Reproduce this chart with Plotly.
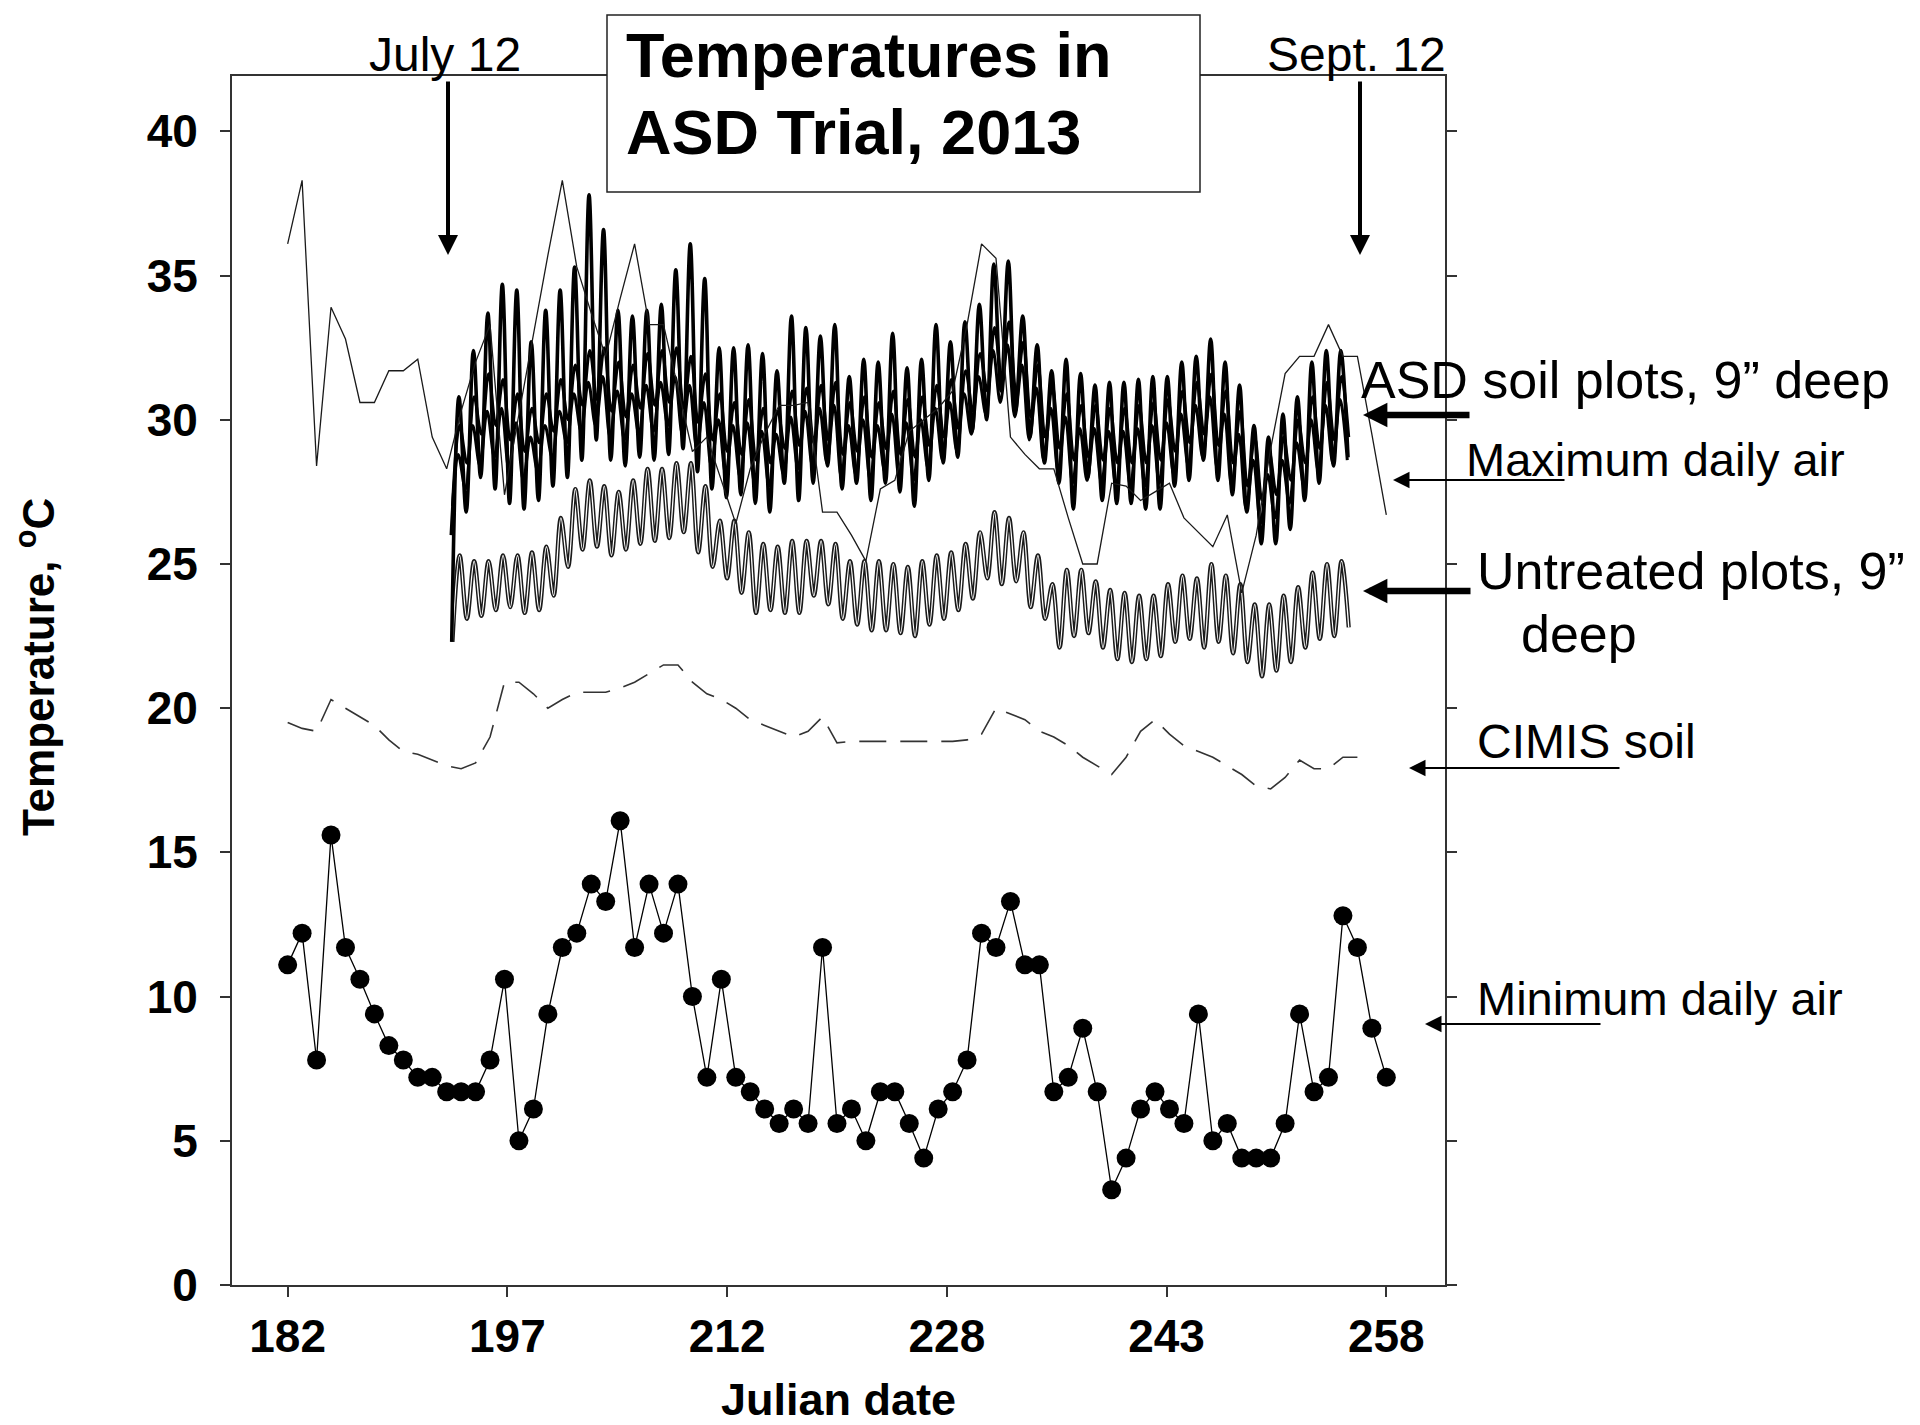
import plotly.graph_objects as go

# ---------------- data ----------------
MIN_DAYS = list(range(182, 259))
MIN_AIR = [11.1, 12.2, 7.8, 15.6, 11.7, 10.6, 9.4, 8.3, 7.8, 7.2,
           7.2, 6.7, 6.7, 6.7, 7.8, 10.6, 5.0, 6.1, 9.4, 11.7,
           12.2, 13.9, 13.3, 16.1, 11.7, 13.9, 12.2, 13.9, 10.0, 7.2,
           10.6, 7.2, 6.7, 6.1, 5.6, 6.1, 5.6, 11.7, 5.6, 6.1,
           5.0, 6.7, 6.7, 5.6, 4.4, 6.1, 6.7, 7.8, 12.2, 11.7,
           13.3, 11.1, 11.1, 6.7, 7.2, 8.9, 6.7, 3.3, 4.4, 6.1,
           6.7, 6.1, 5.6, 9.4, 5.0, 5.6, 4.4, 4.4, 4.4, 5.6,
           9.4, 6.7, 7.2, 12.8, 11.7, 8.9, 7.2]

MAX_DAYS = list(range(182, 259))
MAX_AIR = [36.1, 38.3, 28.4, 33.9, 32.8, 30.6, 30.6, 31.7, 31.7, 32.1,
           29.4, 28.3, 30.3, 32.0, 33.3, 27.4, 30.2, 33.0, 35.7, 38.3,
           35.3, 33.7, 32.2, 34.2, 36.1, 33.3, 33.3, 31.1, 28.9, 29.4,
           27.9, 26.4, 28.3, 29.5, 30.5, 30.5, 30.6, 26.8, 26.8, 26.0,
           25.1, 27.6, 27.9, 29.6, 30.0, 30.4, 31.0, 33.3, 36.1, 35.6,
           29.4, 28.8, 28.3, 28.3, 26.6, 25.0, 25.0, 27.8, 27.7, 27.2,
           27.5, 27.8, 26.6, 26.1, 25.6, 26.7, 24.0, 26.0, 29.0, 31.6,
           32.2, 32.2, 33.3, 32.2, 32.2, 29.5, 26.7]

CIMIS_DAYS = list(range(182, 257))
CIMIS_SOIL = [19.5, 19.3, 19.2, 20.3, 20.0, 19.7, 19.4, 18.9, 18.5, 18.4,
              18.2, 18.0, 17.9, 18.1, 19.0, 20.9, 20.9, 20.5, 20.0, 20.3,
              20.55, 20.55, 20.55, 20.7, 20.9, 21.2, 21.5, 21.5, 20.9, 20.5,
              20.3, 20.0, 19.6, 19.4, 19.2, 19.0, 19.2, 19.7, 18.8, 18.85,
              18.85, 18.85, 18.85, 18.85, 18.85, 18.85, 18.85, 18.9, 19.1, 20.0,
              19.8, 19.6, 19.2, 19.0, 18.7, 18.3, 18.0, 17.7, 18.3, 19.2,
              19.6, 19.1, 18.7, 18.5, 18.3, 18.0, 17.7, 17.3, 17.2, 17.6,
              18.2, 17.9, 17.9, 18.3, 18.3]

# hourly probe records, summarised as the daily low (early) and daily high (evening)
PROBE_DAYS = list(range(193, 256))
ASD_A_LOW = [22.3, 26.8, 28.0, 27.6, 27.1, 26.9, 27.2, 27.7, 28.0, 28.6,
             29.3, 28.6, 28.4, 28.7, 28.6, 28.8, 29.0, 28.2, 27.6, 27.3,
             27.4, 27.1, 26.8, 27.8, 27.2, 27.8, 28.4, 27.6, 27.8, 27.2,
             27.8, 27.5, 27.0, 27.9, 28.5, 28.7, 29.6, 30.0, 31.0, 30.3,
             29.4, 28.5, 27.8, 26.9, 28.0, 27.2, 27.1, 27.1, 26.9, 26.9,
             27.7, 27.9, 28.6, 27.9, 27.4, 26.8, 25.7, 25.7, 26.2, 27.2,
             27.8, 28.4, 28.7]
ASD_A_HIGH = [30.8, 32.4, 33.7, 34.7, 34.5, 32.7, 33.8, 34.5, 35.3, 37.8,
              36.6, 33.8, 33.6, 33.8, 34.0, 35.2, 36.1, 34.9, 32.5, 32.5,
              32.6, 32.3, 31.7, 33.6, 33.2, 32.9, 33.3, 31.5, 32.1, 32.0,
              33.0, 31.8, 32.1, 33.3, 32.7, 33.4, 34.0, 35.4, 35.5, 33.6,
              32.6, 31.7, 32.1, 31.6, 31.2, 31.3, 31.3, 31.4, 31.5, 31.5,
              32.0, 32.2, 32.8, 32.0, 31.2, 29.8, 29.4, 30.2, 30.8, 32.0,
              32.4, 32.4]
ASD_B_LOW = [27.0, 28.5, 29.5, 29.8, 29.3, 28.9, 29.2, 29.6, 30.0, 30.5,
             30.7, 30.3, 30.1, 30.4, 30.5, 30.6, 30.4, 29.9, 29.3, 28.9,
             28.8, 28.6, 28.5, 29.0, 29.1, 29.2, 29.3, 28.8, 28.9, 28.7,
             29.0, 28.8, 28.7, 29.1, 29.4, 29.7, 30.3, 31.0, 31.4, 30.9,
             30.1, 29.4, 29.0, 28.6, 28.7, 28.6, 28.5, 28.5, 28.5, 28.6,
             28.9, 29.2, 29.5, 29.1, 28.5, 27.7, 27.2, 27.4, 27.9, 28.5,
             29.0, 29.3, 29.4]
ASD_B_HIGH = [29.8, 30.8, 31.6, 31.4, 30.9, 30.4, 30.9, 31.4, 31.9, 32.4,
              32.5, 32.0, 31.9, 32.3, 32.4, 32.5, 32.2, 31.6, 30.9, 30.6,
              30.7, 30.4, 30.3, 31.0, 31.1, 31.2, 31.3, 30.6, 30.8, 30.6,
              31.0, 30.7, 30.8, 31.2, 31.4, 31.7, 32.3, 33.2, 33.4, 32.7,
              31.9, 31.2, 30.9, 30.5, 30.5, 30.4, 30.4, 30.5, 30.6, 30.7,
              31.0, 31.3, 31.6, 31.0, 30.3, 29.4, 28.9, 29.4, 30.0, 30.8,
              31.3, 31.5]
ASD_C_LOW = [26.0, 27.6, 28.4, 28.7, 28.3, 27.9, 28.2, 28.7, 29.2, 29.6,
             29.8, 29.4, 29.3, 29.5, 29.6, 29.8, 29.5, 29.0, 28.4, 28.1,
             28.0, 27.8, 27.7, 28.1, 28.3, 28.4, 28.5, 28.0, 28.1, 27.9,
             28.2, 28.0, 27.9, 28.3, 28.6, 28.9, 29.5, 30.2, 30.6, 30.1,
             29.3, 28.6, 28.2, 27.8, 27.9, 27.8, 27.7, 27.7, 27.7, 27.8,
             28.1, 28.4, 28.7, 28.3, 27.7, 26.9, 26.4, 26.6, 27.1, 27.7,
             28.2, 28.5, 28.6]
ASD_C_HIGH = [28.8, 29.8, 30.3, 30.4, 29.9, 29.4, 29.8, 30.3, 30.9, 31.3,
              31.5, 31.0, 30.9, 31.2, 31.3, 31.5, 31.2, 30.6, 30.0, 29.8,
              29.9, 29.6, 29.5, 30.1, 30.3, 30.4, 30.5, 29.8, 30.0, 29.8,
              30.2, 29.9, 30.0, 30.4, 30.6, 30.9, 31.5, 32.4, 32.6, 31.9,
              31.1, 30.4, 30.1, 29.7, 29.7, 29.6, 29.6, 29.7, 29.8, 29.9,
              30.2, 30.5, 30.8, 30.2, 29.5, 28.6, 28.1, 28.6, 29.2, 30.0,
              30.5, 30.7]
UNT_LOW = [22.3, 23.1, 23.2, 23.4, 23.5, 23.3, 23.4, 23.9, 24.9, 25.5,
           25.6, 25.3, 25.5, 25.7, 25.8, 25.9, 26.1, 25.4, 24.9, 24.5,
           24.0, 23.3, 23.4, 23.3, 23.3, 23.9, 23.6, 23.1, 22.9, 22.7,
           22.7, 22.6, 22.5, 22.9, 23.1, 23.4, 23.8, 24.5, 24.3, 24.4,
           23.5, 23.1, 22.1, 22.5, 22.6, 22.1, 21.7, 21.6, 21.7, 21.8,
           22.3, 22.4, 22.1, 22.3, 21.9, 21.6, 21.1, 21.3, 21.6, 22.1,
           22.4, 22.5, 22.8]
UNT_HIGH = [25.3, 25.1, 25.1, 25.3, 25.3, 25.4, 25.6, 26.6, 27.6, 27.9,
            27.7, 27.5, 27.9, 28.3, 28.3, 28.5, 28.5, 27.7, 26.5, 26.5,
            26.1, 25.7, 25.6, 25.8, 25.8, 25.8, 25.7, 25.1, 25.1, 25.1,
            25.0, 24.9, 25.1, 25.3, 25.4, 25.7, 26.1, 26.8, 26.6, 26.1,
            25.3, 24.3, 24.8, 24.8, 24.4, 24.1, 24.0, 23.9, 23.9, 24.3,
            24.6, 24.5, 25.0, 24.6, 24.3, 23.6, 23.6, 23.9, 24.2, 24.7,
            25.0, 25.1]

X_TICK_VALS = [182, 197.2, 212.4, 227.6, 242.8, 258]
X_TICK_TEXT = ["182", "197", "212", "228", "243", "258"]
Y_TICK_VALS = [0, 5, 10, 15, 20, 25, 30, 35, 40]

# ---------------- layout geometry (page pixels) ----------------
PAGE_OFF = 8                     # default body margin of the html page
W, H = 1920 - PAGE_OFF, 1425 - PAGE_OFF
L, R, T, B = 232, 1445, 76, 1285  # plot area, in page pixels
FONT = "Liberation Sans, Arial, sans-serif"


def px(X):
    return (X - L) / (R - L)


def py(Y):
    return (B - Y) / (B - T)


def daily_wave(days, lows, highs, low_time, high_time):
    xs, ys = [], []
    for i, d in enumerate(days):
        if i < len(lows):
            xs.append(d + low_time)
            ys.append(lows[i])
        if i < len(highs):
            xs.append(d + high_time)
            ys.append(highs[i])
    return xs, ys


fig = go.Figure()

ux, uy = daily_wave(PROBE_DAYS, UNT_LOW, UNT_HIGH, 0.4, 0.9)
fig.add_trace(go.Scatter(x=ux, y=uy, mode="lines",
                         line=dict(color="#1a1a1a", width=4.2, shape="spline", smoothing=1.0),
                         hoverinfo="skip"))
fig.add_trace(go.Scatter(x=ux, y=uy, mode="lines",
                         line=dict(color="white", width=1.3, shape="spline", smoothing=1.0),
                         hoverinfo="skip"))

fig.add_trace(go.Scatter(x=CIMIS_DAYS, y=CIMIS_SOIL, mode="lines",
                         line=dict(color="#333333", width=1.6, dash="27px,14px")))

for lows, highs, lt, ht, w in [(ASD_C_LOW, ASD_C_HIGH, 0.3, 0.8, 3.0),
                               (ASD_B_LOW, ASD_B_HIGH, 0.4, 0.9, 3.0),
                               (ASD_A_LOW, ASD_A_HIGH, 0.35, 0.85, 3.6)]:
    ax_, ay_ = daily_wave(PROBE_DAYS, lows, highs, lt, ht)
    fig.add_trace(go.Scatter(x=ax_, y=ay_, mode="lines",
                             line=dict(color="black", width=w, shape="spline", smoothing=1.0)))

fig.add_trace(go.Scatter(x=MAX_DAYS, y=MAX_AIR, mode="lines",
                         line=dict(color="#1a1a1a", width=1.3)))

fig.add_trace(go.Scatter(x=MIN_DAYS, y=MIN_AIR, mode="lines+markers",
                         line=dict(color="black", width=1.3),
                         marker=dict(color="black", size=19)))

axis_common = dict(showgrid=False, zeroline=False, showline=True, linecolor="#333333",
                   linewidth=2, ticks="outside", tickcolor="#333333", tickwidth=1.5,
                   tickfont=dict(family=FONT, size=46, color="black", weight="bold"))

fig.update_xaxes(range=[178.15, 262.06], tickmode="array", tickvals=X_TICK_VALS,
                 ticktext=X_TICK_TEXT, ticklen=10, mirror=True, ticklabelstandoff=0,
                 **axis_common)
fig.update_yaxes(range=[0, 41.92], tickmode="array", tickvals=Y_TICK_VALS,
                 ticklen=10, mirror="ticks", ticklabelstandoff=13, **axis_common)

annotations = []
shapes = []

# title box
shapes.append(dict(type="rect", xref="paper", yref="paper",
                   x0=px(607), x1=px(1200), y0=py(192), y1=py(15),
                   fillcolor="white", line=dict(color="#222222", width=1.5), layer="above"))
for line_txt, yc in [("Temperatures in", 55), ("ASD Trial, 2013", 132)]:
    annotations.append(dict(xref="paper", yref="paper", x=px(624), y=py(yc),
                            xanchor="left", yanchor="middle", align="left", showarrow=False,
                            text="<b>" + line_txt + "</b>",
                            font=dict(family=FONT, size=63, color="black")))

# date markers
for label, cx, ax_x in [("July 12", 445, 448), ("Sept. 12", 1356, 1360)]:
    annotations.append(dict(xref="paper", yref="paper", x=px(cx), y=py(55),
                            xanchor="center", yanchor="middle", showarrow=False,
                            text=label, font=dict(family=FONT, size=48, color="black")))
    annotations.append(dict(xref="paper", yref="paper", x=px(ax_x), y=py(255),
                            ax=0, ay=-175, axref="pixel", ayref="pixel", text="",
                            showarrow=True, arrowhead=2, arrowsize=1.0, arrowwidth=4,
                            arrowcolor="black", standoff=0))

# right-side labels
labels = [("ASD soil plots, 9\u201d deep", 1359, 380, 52),
          ("Maximum daily air", 1464, 459, 47),
          ("Untreated plots, 9\u201d", 1475, 571, 52),
          ("deep", 1519, 634, 52),
          ("CIMIS soil", 1475, 741, 48),
          ("Minimum daily air", 1475, 998, 47)]
for txt, x0, yc, fs in labels:
    annotations.append(dict(xref="paper", yref="paper", x=px(x0), y=py(yc),
                            xanchor="left", yanchor="middle", showarrow=False,
                            text=txt, font=dict(family=FONT, size=fs, color="black")))

arrows = [(1363, 415, 1471, 6.5, 0.75),
          (1393, 480, 1566, 2.2, 1.5),
          (1363, 591, 1472, 6.5, 0.75),
          (1409, 768, 1621, 2.2, 1.5),
          (1425, 1024, 1602, 2.2, 1.5)]
for tipx, yy, tailx, w, s in arrows:
    annotations.append(dict(xref="paper", yref="paper", x=px(tipx), y=py(yy),
                            ax=tailx - tipx, ay=0, axref="pixel", ayref="pixel", text="",
                            showarrow=True, arrowhead=2, arrowsize=s, arrowwidth=w,
                            arrowcolor="black", standoff=0))

# axis titles
annotations.append(dict(xref="paper", yref="paper", x=px(36), y=py(667),
                        xanchor="center", yanchor="middle", showarrow=False, textangle=-90,
                        text="<b>Temperature, <sup>o</sup>C</b>",
                        font=dict(family=FONT, size=44, color="black")))
annotations.append(dict(xref="paper", yref="paper", x=px(838), y=py(1400),
                        xanchor="center", yanchor="middle", showarrow=False,
                        text="<b>Julian date</b>",
                        font=dict(family=FONT, size=45, color="black")))

fig.update_layout(width=W, height=H, autosize=False,
                  margin=dict(l=L - PAGE_OFF, r=W - (R - PAGE_OFF), t=T - PAGE_OFF,
                              b=H - (B - PAGE_OFF), pad=0),
                  paper_bgcolor="white", plot_bgcolor="white", showlegend=False,
                  annotations=annotations, shapes=shapes,
                  font=dict(family=FONT, color="black"))

fig.write_html("out.html")
